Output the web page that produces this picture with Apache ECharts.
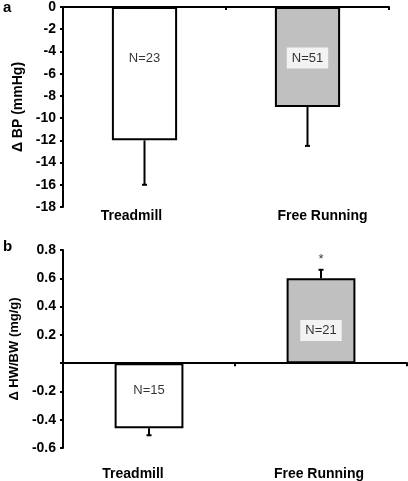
<!DOCTYPE html>
<html><head><meta charset="utf-8">
<script src="https://cdn.jsdelivr.net/npm/echarts@6/dist/echarts.min.js"></script>
<style>html,body{margin:0;padding:0;background:#fff}#c{width:408px;height:481px}</style>
</head><body><div id="c"></div>
<script>
// ---- data ----
const categories = ['Treadmill', 'Free Running'];
// panel a: change in blood pressure
const bpMean = [-12, -9];
const bpErrEnd = [-16, -12.5];
const bpN = ['N=23', 'N=51'];
const bpNPos = [-4.6, -4.6];
const bpTicks = [-18, 0, 2];  // min, max, interval
// panel b: change in HW/BW
const hwMean = [-0.46, 0.6];
const hwErrEnd = [-0.51, 0.66];
const hwN = ['N=15', 'N=21'];
const hwNPos = [-0.19, 0.23];
const hwTicks = [-0.6, 0.8, 0.2];
const sigMark = [null, '*'];
const sigPos = [null, 0.73];

// ---- style ----
const FONT = '"Liberation Sans", Arial, sans-serif';
const barColors = ['#ffffff', '#c0c0c0'];

function barData(vals) {
  return vals.map((v, i) => ({ value: v, itemStyle: { color: barColors[i], borderColor: '#000', borderWidth: 2 } }));
}
function errData(mean, end) { return mean.map((m, i) => [i, m, end[i]]); }
function labelData(pos, txt) {
  return pos.map((p, i) => p === null ? null : { value: [i, p], name: txt[i] }).filter(d => d);
}
function errRender(params, api) {
  const x = api.value(0);
  const p0 = api.coord([x, api.value(1)]);
  const p1 = api.coord([x, api.value(2)]);
  return {
    type: 'group',
    children: [
      { type: 'line', shape: { x1: p0[0], y1: p0[1], x2: p1[0], y2: p1[1] }, style: { stroke: '#000', lineWidth: 2 } },
      { type: 'line', shape: { x1: p1[0] - 2.5, y1: p1[1], x2: p1[0] + 2.5, y2: p1[1] }, style: { stroke: '#000', lineWidth: 2 } }
    ]
  };
}
function valueAxis(gi, ticks, name, hideZero, nameSize, nameGap) {
  return {
    type: 'value', gridIndex: gi, min: ticks[0], max: ticks[1], interval: ticks[2],
    name: name, nameLocation: 'middle', nameGap: nameGap,
    nameTextStyle: { fontFamily: FONT, fontWeight: 'bold', fontSize: nameSize, color: '#000' },
    axisLine: { show: true, onZero: false, lineStyle: { color: '#000', width: 2 } },
    axisTick: { show: true, length: 3, lineStyle: { color: '#000', width: 2 } },
    axisLabel: {
      fontFamily: FONT, fontWeight: 'bold', fontSize: 14, color: '#000', margin: 7,
      formatter: v => {
        if (hideZero && Math.abs(v) < 1e-9) return '';
        return ticks[2] < 1 ? (Math.abs(v) < 1e-9 ? '0' : v.toFixed(1)) : String(Math.round(v));
      }
    },
    splitLine: { show: false }
  };
}
function lineAxis(gi, pos) {
  return {
    type: 'category', gridIndex: gi, data: categories, position: pos,
    axisLine: { show: true, onZero: true, lineStyle: { color: '#000', width: 2 } },
    axisTick: { show: true, inside: pos === 'top', length: 3, lineStyle: { color: '#000', width: 2 } },
    axisLabel: { show: false }
  };
}
function labelAxis(gi, margin, shifts) {
  const st = s => ({ fontFamily: FONT, fontWeight: 'bold', fontSize: 14, color: '#000',
    padding: s < 0 ? [0, -2 * s, 0, 0] : [0, 0, 0, 2 * s] });
  return {
    type: 'category', gridIndex: gi, data: categories, position: 'bottom',
    axisLine: { show: false, onZero: false }, axisTick: { show: false },
    axisLabel: {
      margin: margin, interval: 0,
      formatter: (v, i) => '{s' + i + '|' + v + '}',
      rich: { s0: st(shifts[0]), s1: st(shifts[1]) }
    }
  };
}
function nSeries(xi, yi, pos, txt, bg) {
  return {
    type: 'scatter', xAxisIndex: xi, yAxisIndex: yi, symbolSize: 0, silent: true,
    data: labelData(pos, txt),
    label: {
      show: true, position: 'inside', formatter: p => p.name,
      fontFamily: FONT, fontSize: 13, color: '#000',
      backgroundColor: bg ? '#fff' : 'transparent', padding: bg ? [4, 5] : 0
    }
  };
}

const chart = echarts.init(document.getElementById('c'));
chart.setOption({
  animation: false,
  backgroundColor: '#fff',
  graphic: [
    { type: 'text', left: 3, top: 0, style: { text: 'a', font: 'bold 15px ' + FONT, fill: '#000' } },
    { type: 'text', left: 3, top: 239, style: { text: 'b', font: 'bold 15px ' + FONT, fill: '#000' } }
  ],
  grid: [
    { left: 63, right: 19, top: 7, bottom: 274 },
    { left: 58, right: 1, top: 250, bottom: 33 }
  ],
  xAxis: [
    lineAxis(0, 'top'),
    labelAxis(0, 2, [-13, 15]),
    lineAxis(1, 'bottom'),
    labelAxis(1, 19, [-16, -2])
  ],
  yAxis: [
    valueAxis(0, bpTicks, '\u0394 BP (mmHg)', false, 14, 34),
    valueAxis(1, hwTicks, '\u0394 HW/BW (mg/g)', true, 13, 30)
  ],
  series: [
    { type: 'bar', xAxisIndex: 0, yAxisIndex: 0, barWidth: '40%', data: barData(bpMean) },
    { type: 'custom', xAxisIndex: 0, yAxisIndex: 0, renderItem: errRender, data: errData(bpMean, bpErrEnd), z: 1 },
    nSeries(0, 0, bpNPos, bpN, true),
    { type: 'bar', xAxisIndex: 2, yAxisIndex: 1, barWidth: '40%', data: barData(hwMean) },
    { type: 'custom', xAxisIndex: 2, yAxisIndex: 1, renderItem: errRender, data: errData(hwMean, hwErrEnd), z: 1 },
    nSeries(2, 1, hwNPos, hwN, true),
    {
      type: 'scatter', xAxisIndex: 2, yAxisIndex: 1, symbolSize: 0, silent: true,
      data: labelData(sigPos, sigMark),
      label: { show: true, position: 'inside', formatter: p => p.name, fontFamily: FONT, fontSize: 13, color: '#000' }
    }
  ]
});
</script>
</body></html>
